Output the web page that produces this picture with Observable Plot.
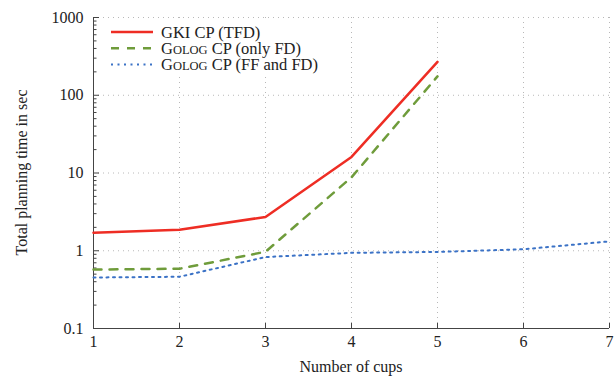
<!DOCTYPE html>
<html>
<head>
<meta charset="utf-8">
<script src="https://cdn.jsdelivr.net/npm/d3@7"></script>
<script src="https://cdn.jsdelivr.net/npm/@observablehq/plot@0.6"></script>
<style>
  html, body { margin: 0; padding: 0; background: #fff; font-family: "Liberation Serif"; }
  #chart { width: 615px; height: 380px; }
  #chart svg, #chart svg text, #chart svg tspan { font-family: "Liberation Serif" !important; }
</style>
</head>
<body>
<div id="chart"></div>
<script>
// ---- data ----
const cups = [1, 2, 3, 4, 5, 6, 7];
const gkiTFD = [1.71, 1.86, 2.72, 16.1, 269];
const gologOnlyFD = [0.573, 0.587, 0.97, 8.8, 175];
const gologFFandFD = [0.453, 0.463, 0.83, 0.94, 0.965, 1.045, 1.32];
const seriesNames = ["GKI CP (TFD)", "GOLOG CP (only FD)", "GOLOG CP (FF and FD)"];
const seriesColors = ["#ee2d24", "#6f9c3b", "#3b72c6"];
const yTicks = [0.1, 1, 10, 100, 1000];
const yTickLabels = ["0.1", "1", "10", "100", "1000"];
const xTicks = [1, 2, 3, 4, 5, 6, 7];
const yMinorMultipliers = [2, 3, 4, 5, 6, 7, 8, 9];

const yMinorTicks = yTicks.slice(0, -1).flatMap(d => yMinorMultipliers.map(m => d * m));

const rows = [
  ...gkiTFD.map((v, i) => ({series: seriesNames[0], cups: cups[i], time: v})),
  ...gologOnlyFD.map((v, i) => ({series: seriesNames[1], cups: cups[i], time: v})),
  ...gologFFandFD.map((v, i) => ({series: seriesNames[2], cups: cups[i], time: v}))
];

const font = '"Liberation Serif"';
const axisColor = "#444";
const gridStyle = {stroke: "#b8b8b8", strokeOpacity: 1, strokeDasharray: "1,4", strokeWidth: 1};

const chart = Plot.plot({
  width: 615,
  height: 380,
  marginLeft: 93,
  marginRight: 6,
  marginTop: 17,
  marginBottom: 52,
  style: {fontFamily: font, fontSize: "16px", background: "white", color: "#222"},
  x: {domain: [1, 7]},
  y: {type: "log", domain: [0.1, 1000]},
  marks: [
    Plot.gridX(xTicks.slice(1), gridStyle),
    Plot.gridY(yTicks.slice(1), gridStyle),
    Plot.axisY(yMinorTicks, {tickSize: -3.5, tickFormat: () => "", label: null, stroke: axisColor}),
    Plot.axisY(yTicks, {tickSize: -6, tickPadding: 16, tickFormat: d => yTickLabels[yTicks.indexOf(d)], label: null, stroke: axisColor, fontSize: 16}),
    Plot.axisX(xTicks, {tickSize: -5, tickPadding: 12, tickFormat: d => String(d), label: null, stroke: axisColor, fontSize: 16}),
    Plot.ruleX([1], {stroke: axisColor, strokeWidth: 1}),
    Plot.ruleY([0.1], {stroke: axisColor, strokeWidth: 1}),
    Plot.line(rows.filter(d => d.series === seriesNames[2]), {x: "cups", y: "time", stroke: seriesColors[2], strokeWidth: 2, strokeDasharray: "2,4.5"}),
    Plot.line(rows.filter(d => d.series === seriesNames[1]), {x: "cups", y: "time", stroke: seriesColors[1], strokeWidth: 2.5, strokeDasharray: "8,8"}),
    Plot.line(rows.filter(d => d.series === seriesNames[0]), {x: "cups", y: "time", stroke: seriesColors[0], strokeWidth: 2.5})
  ]
});

document.getElementById("chart").appendChild(chart);

// ---- axis titles and legend ----
const svg = d3.select(chart);

svg.append("text")
  .attr("transform", "translate(21,172.5) rotate(-90)")
  .attr("text-anchor", "middle")
  .attr("dy", "0.35em")
  .style("font-family", font)
  .style("font-size", "16px")
  .attr("fill", "#222")
  .text("Total planning time in sec");

svg.append("text")
  .attr("x", 351)
  .attr("y", 372)
  .attr("text-anchor", "middle")
  .style("font-family", font)
  .style("font-size", "16px")
  .attr("fill", "#222")
  .text("Number of cups");

const legend = svg.append("g");
legend.append("rect")
  .attr("x", 97).attr("y", 20).attr("width", 250).attr("height", 56)
  .attr("fill", "white");

const legendStyles = [
  {width: 2.5, dash: null},
  {width: 2.5, dash: "8,8"},
  {width: 2, dash: "2,4.5"}
];

seriesNames.forEach((name, i) => {
  const y = 32 + i * 16.3;
  const l = legend.append("line")
    .attr("x1", 111).attr("x2", 153).attr("y1", y).attr("y2", y)
    .attr("stroke", seriesColors[i])
    .attr("stroke-width", legendStyles[i].width);
  if (legendStyles[i].dash) l.attr("stroke-dasharray", legendStyles[i].dash);
  const t = legend.append("text")
    .attr("x", 161).attr("y", y).attr("dy", "0.35em")
    .attr("text-anchor", "start")
    .style("font-family", font)
    .style("font-size", "16.5px")
    .attr("fill", "#222");
  if (name.startsWith("GOLOG")) {
    t.append("tspan").text("G");
    t.append("tspan").style("font-size", "12.5px").text("OLOG");
    t.append("tspan").text(name.slice(5));
  } else {
    t.text(name);
  }
});
</script>
</body>
</html>
